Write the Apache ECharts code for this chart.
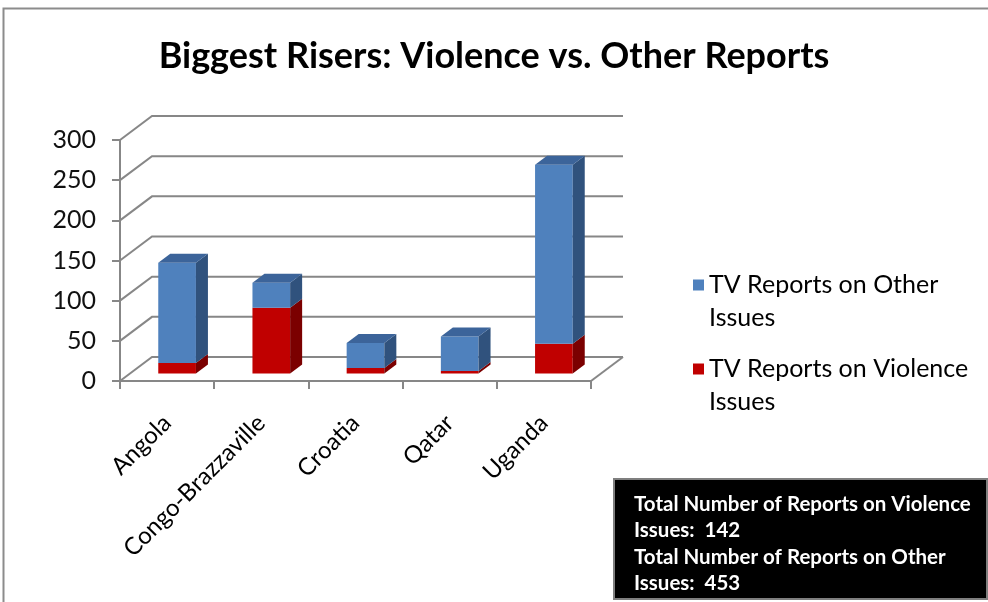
<!DOCTYPE html>
<html>
<head>
<meta charset="utf-8">
<title>Biggest Risers: Violence vs. Other Reports</title>
<script src="https://cdn.jsdelivr.net/npm/echarts@6/dist/echarts.min.js"></script>
<style>
  html, body { margin: 0; padding: 0; background: #fff; }
  #chart { width: 988px; height: 602px; }
</style>
</head>
<body>
<div id="chart"></div>
<script>
// Countries and report counts
const categories = ['Angola', 'Congo-Brazzaville', 'Croatia', 'Qatar', 'Uganda'];
const violenceReports = [13, 82, 7, 3, 37];
const otherReports = [125, 31, 31, 43, 223];
const yTicks = [0, 50, 100, 150, 200, 250, 300];

const seriesOtherName = 'TV Reports on Other Issues';
const seriesViolenceName = 'TV Reports on Violence Issues';

const sum = arr => arr.reduce((a, b) => a + b, 0);

// Oblique depth of the floor / walls, in pixels
const DX = 32, DY = -24;
// Bars sit in the middle of the depth
const BAR_FRONT = 0.3125, BAR_DEPTH = 0.375, BAR_WIDTH = 0.4;

const FONT = 'Lato, "Open Sans", sans-serif';
const GRID_COLOR = '#878787';

const palette = {
  other: { front: '#4F81BD', side: '#30527D', top: '#3C649A' },
  violence: { front: '#C00000', side: '#7B0000', top: '#A20000' }
};

// Back wall, left side wall and floor outline
function renderWalls(params, api) {
  const cs = params.coordSys;
  const v = api.value(1);
  const y = api.coord([0, v])[1];
  const left = cs.x, right = cs.x + cs.width;
  const children = [{
    type: 'polyline',
    shape: { points: [[left, y], [left + DX, y + DY], [right + DX, y + DY]] },
    style: { stroke: GRID_COLOR, lineWidth: 2, fill: null }
  }];
  if (v === 0) {
    children.push({
      type: 'line',
      shape: { x1: right, y1: y, x2: right + DX, y2: y + DY },
      style: { stroke: GRID_COLOR, lineWidth: 2 }
    });
  }
  return { type: 'group', children };
}

// One stacked 3D block: front face, right side face and (optionally) top face
function makeBlockRenderer(colors, drawTop) {
  return function (params, api) {
    const i = api.value(0), lo = api.value(1), hi = api.value(2);
    const base = api.coord([i, lo]);
    const top = api.coord([i, hi]);
    const band = api.size([1, 0])[0];
    const w = band * BAR_WIDTH;
    const fx = base[0] - w / 2 + DX * BAR_FRONT;
    const y0 = base[1] + DY * BAR_FRONT;
    const y1 = top[1] + DY * BAR_FRONT;
    const bx = DX * BAR_DEPTH, by = DY * BAR_DEPTH;
    const children = [
      {
        type: 'rect',
        shape: { x: fx, y: y1, width: w, height: y0 - y1 },
        style: { fill: colors.front }
      },
      {
        type: 'polygon',
        shape: { points: [[fx + w, y1], [fx + w + bx, y1 + by], [fx + w + bx, y0 + by], [fx + w, y0]] },
        style: { fill: colors.side }
      }
    ];
    if (drawTop) {
      children.push({
        type: 'polygon',
        shape: { points: [[fx, y1], [fx + bx, y1 + by], [fx + w + bx, y1 + by], [fx + w, y1]] },
        style: { fill: colors.top }
      });
    }
    return { type: 'group', children };
  };
}

const violenceData = categories.map((c, i) => [i, 0, violenceReports[i]]);
const otherData = categories.map((c, i) => [i, violenceReports[i], violenceReports[i] + otherReports[i]]);

const chart = echarts.init(document.getElementById('chart'), null, { renderer: 'canvas' });

const LEGEND_LINE = 33;

chart.setOption({
  animation: false,
  backgroundColor: '#ffffff',
  title: {
    text: 'Biggest Risers: Violence vs. Other Reports',
    left: 'center',
    top: 33,
    textStyle: { fontFamily: FONT, fontWeight: 'bold', fontSize: 36, color: '#000' }
  },
  legend: {
    orient: 'vertical',
    left: 688,
    top: 230.5,
    icon: 'rect',
    itemWidth: 11,
    itemHeight: 11,
    itemGap: -15,
    data: [seriesOtherName, seriesViolenceName],
    // leading blank line keeps the swatch level with the first text line
    formatter: name => '\n' + name.replace(/ Issues$/, '\nIssues'),
    textStyle: {
      fontFamily: FONT,
      fontSize: 25,
      color: '#000',
      lineHeight: LEGEND_LINE
    }
  },
  grid: { left: 120, top: 140, width: 471, height: 241, containLabel: false },
  xAxis: {
    type: 'category',
    data: categories,
    boundaryGap: true,
    axisLine: { show: true, lineStyle: { color: GRID_COLOR, width: 2 } },
    axisTick: { show: true, length: 8, lineStyle: { color: GRID_COLOR, width: 2 } },
    axisLabel: {
      rotate: 45,
      margin: 38,
      fontFamily: FONT,
      fontSize: 24,
      color: '#000'
    },
    splitLine: { show: false }
  },
  yAxis: {
    type: 'value',
    min: 0,
    max: 300,
    interval: 50,
    axisLine: { show: true, lineStyle: { color: GRID_COLOR, width: 2 } },
    axisTick: { show: true, length: 8, lineStyle: { color: GRID_COLOR, width: 2 } },
    axisLabel: {
      margin: 24,
      fontFamily: FONT,
      fontSize: 25,
      color: '#111'
    },
    splitLine: { show: false }
  },
  series: [
    {
      name: 'walls',
      type: 'custom',
      renderItem: renderWalls,
      data: yTicks.map(v => [0, v]),
      clip: false,
      silent: true,
      z: 1
    },
    {
      name: seriesViolenceName,
      type: 'custom',
      renderItem: makeBlockRenderer(palette.violence, false),
      itemStyle: { color: palette.violence.front },
      encode: { x: 0, y: [1, 2] },
      data: violenceData,
      clip: false,
      z: 2
    },
    {
      name: seriesOtherName,
      type: 'custom',
      renderItem: makeBlockRenderer(palette.other, true),
      itemStyle: { color: palette.other.front },
      encode: { x: 0, y: [1, 2] },
      data: otherData,
      clip: false,
      z: 3
    }
  ],
  graphic: [
    {
      type: 'rect',
      left: 1,
      top: 6,
      shape: { width: 1100, height: 700 },
      style: { fill: null, stroke: '#8c8c8c', lineWidth: 2 },
      silent: true,
      z: 0
    },
    {
      type: 'group',
      left: 613,
      top: 478,
      children: [
        {
          type: 'rect',
          shape: { x: 0, y: 0, width: 373, height: 120 },
          style: { fill: '#000', stroke: '#7f7f7f', lineWidth: 2 }
        },
        {
          type: 'text',
          x: 20,
          y: 12,
          style: {
            text: 'Total Number of Reports on Violence\nIssues:  ' + sum(violenceReports) +
                  '\nTotal Number of Reports on Other\nIssues:  ' + sum(otherReports),
            fill: '#fff',
            font: 'bold 20.5px ' + FONT,
            lineHeight: 26.5
          }
        }
      ],
      z: 10
    }
  ]
});
</script>
</body>
</html>
